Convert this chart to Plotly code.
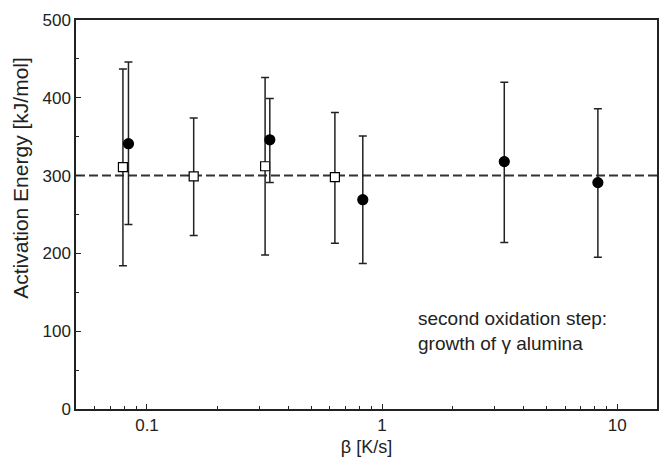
import plotly.graph_objects as go

# Open squares
sq_beta = [0.079, 0.158, 0.318, 0.63]
sq_E = [311, 299, 312, 298]
sq_hi = [437, 374, 426, 381]
sq_lo = [184, 223, 198, 213]

# Filled circles
ci_beta = [0.0834, 0.333, 0.828, 3.31, 8.28]
ci_E = [341, 346, 269, 318, 291]
ci_hi = [446, 399, 351, 420, 386]
ci_lo = [237, 291, 187, 214, 195]

ref_E = 300

FONT = "Liberation Sans, Arial, sans-serif"

fig = go.Figure()

def add_series(xs, ys, hi, lo, symbol, fill, size):
    fig.add_trace(go.Scatter(
        x=xs, y=ys, mode="markers",
        marker=dict(symbol=symbol, size=size, color=fill,
                    line=dict(color="black", width=1.2)),
        error_y=dict(type="data", symmetric=False,
                     array=[h - y for h, y in zip(hi, ys)],
                     arrayminus=[y - l for l, y in zip(lo, ys)],
                     color="#222", thickness=1.5, width=4),
        showlegend=False,
    ))

add_series(sq_beta, sq_E, sq_hi, sq_lo, "square", "white", 9)
add_series(ci_beta, ci_E, ci_hi, ci_lo, "circle", "black", 10)

fig.add_shape(type="line", xref="paper", yref="y", x0=0, x1=1,
              y0=ref_E, y1=ref_E, layer="below",
              line=dict(color="#333", width=2, dash="9px,4px"))

fig.add_annotation(text="second oxidation step:<br>growth of γ alumina",
                   xref="paper", yref="y", x=0.5844, y=132,
                   xanchor="left", yanchor="top", align="left",
                   showarrow=False, font=dict(size=19, color="#222", family=FONT))

fig.add_annotation(text="Activation Energy [kJ/mol]", textangle=-90,
                   xref="paper", yref="paper", x=-0.096, y=0.595,
                   xanchor="center", yanchor="middle", showarrow=False,
                   font=dict(size=21, color="#222", family=FONT))

fig.update_xaxes(type="log", range=[-1.302, 1.1695], dtick=1,
                 ticks="inside", ticklen=5, tickwidth=1.2, tickcolor="#222",
                 showline=True, linecolor="#222", linewidth=1.5, mirror=True,
                 showgrid=False, zeroline=False,
                 tickfont=dict(size=17, color="#222", family=FONT),
                 minor=dict(ticks="inside", ticklen=3, tickcolor="#222",
                            dtick="D1", showgrid=False),
                 title=dict(text="β [K/s]", standoff=6,
                            font=dict(size=18, color="#222", family=FONT)))

fig.update_yaxes(range=[0, 500], dtick=100,
                 ticks="inside", ticklen=5, tickwidth=1.2, tickcolor="#222",
                 showline=True, linecolor="#222", linewidth=1.5, mirror=True,
                 showgrid=False, zeroline=False,
                 tickfont=dict(size=17, color="#222", family=FONT),
                 minor=dict(ticks="inside", ticklen=3, tickcolor="#222",
                            dtick=50, showgrid=False))

fig.update_layout(width=659, height=460,
                  margin=dict(l=76, r=0, t=20, b=51),
                  paper_bgcolor="white", plot_bgcolor="white",
                  font=dict(family=FONT, color="#222"))

fig.write_html("out.html")
